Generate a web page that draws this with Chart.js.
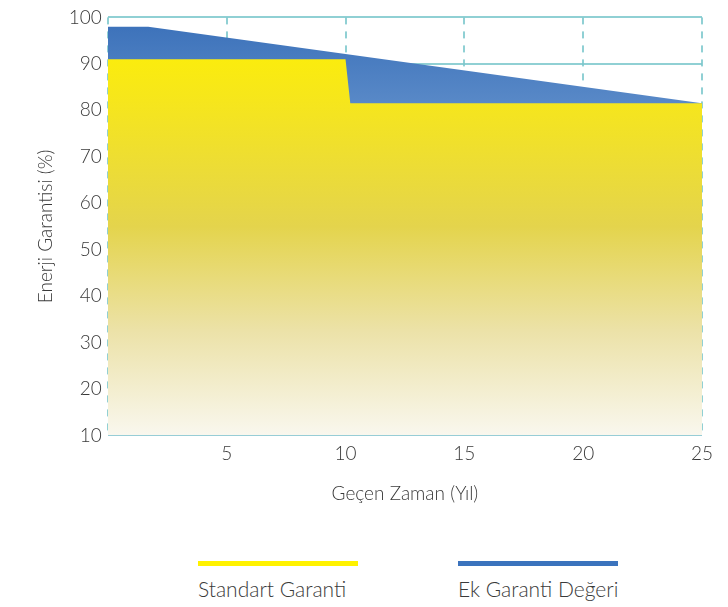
<!DOCTYPE html>
<html>
<head>
<meta charset="utf-8">
<script src="https://cdn.jsdelivr.net/npm/chart.js@4"></script>
<style>
  body { margin: 0; background: #fff; font-family: Lato, "Open Sans", sans-serif; }
  #kutu { position: relative; width: 728px; height: 509px; }
  #lejant { position: relative; width: 728px; height: 98px; }
  .lj { position: absolute; top: 52px; width: 190px; font-size: 21px; font-weight: 300; color: #3a3a3a; }
  .lj span { display: block; height: 5px; width: 160px; margin-bottom: 10px; }
</style>
</head>
<body>
<div id="kutu"><canvas id="myChart"></canvas></div>
<div id="lejant">
  <div class="lj" style="left:198px"><span style="background:#fff200"></span>Standart Garanti</div>
  <div class="lj" style="left:458px"><span style="background:#3b73bd"></span>Ek Garanti Değeri</div>
</div>
<script>
const standartYillar = [0, 10, 10.2, 25];
const standartDegerler = [91, 91, 81.5, 81.5];
const ekYillar = [0, 1.7, 25];
const ekDegerler = [98, 98, 81.5];
const xTikler = [5, 10, 15, 20, 25];

const gridRenk = "rgba(125,200,205,0.85)";
const yaziRenk = "#3a3a3a";
const yazi = { family: "Lato", size: 19, weight: 300 };

function noktalar(xs, ys) {
  return xs.map((x, i) => ({ x: x, y: ys[i] }));
}

function sariGradyan(context) {
  const area = context.chart.chartArea;
  if (!area) return "#f0e040";
  const g = context.chart.ctx.createLinearGradient(0, area.top, 0, area.bottom);
  g.addColorStop(0, "#fff200");
  g.addColorStop(0.2, "#f6e61c");
  g.addColorStop(0.5, "#e4d44c");
  g.addColorStop(0.75, "#ece2a8");
  g.addColorStop(1, "#f9f7ee");
  return g;
}

function maviGradyan(context) {
  const area = context.chart.chartArea;
  if (!area) return "#3b73bd";
  const g = context.chart.ctx.createLinearGradient(0, area.top, 0, area.top + 90);
  g.addColorStop(0, "#3a70b9");
  g.addColorStop(1, "#5a8ac8");
  return g;
}

const config = {
  type: "line",
  data: {
    datasets: [
      {
        label: "Standart Garanti",
        data: noktalar(standartYillar, standartDegerler),
        borderWidth: 0,
        pointRadius: 0,
        fill: "start",
        backgroundColor: sariGradyan
      },
      {
        label: "Ek Garanti Değeri",
        data: noktalar(ekYillar, ekDegerler),
        borderWidth: 0,
        pointRadius: 0,
        fill: "start",
        backgroundColor: maviGradyan
      }
    ]
  },
  options: {
    responsive: true,
    maintainAspectRatio: false,
    animation: false,
    layout: { padding: { top: 4, right: 26, left: 30, bottom: 0 } },
    plugins: { legend: { display: false }, tooltip: { enabled: false } },
    scales: {
      x: {
        type: "linear",
        min: 0,
        max: 25,
        z: 1,
        afterBuildTicks: (axis) => {
          axis.ticks = [0].concat(xTikler).map((v) => ({ value: v }));
        },
        ticks: {
          color: yaziRenk,
          font: yazi,
          padding: 7,
          callback: (v) => (v === 0 ? "" : v)
        },
        grid: { color: gridRenk, lineWidth: 2, drawTicks: false },
        border: { display: false, dash: [7, 7] },
        title: {
          display: true,
          text: "Geçen Zaman (Yıl)",
          color: yaziRenk,
          font: yazi,
          padding: { top: 10 }
        }
      },
      y: {
        min: 10,
        max: 100,
        z: 1,
        ticks: {
          stepSize: 10,
          color: yaziRenk,
          font: yazi,
          padding: 6
        },
        grid: { color: gridRenk, lineWidth: 2, drawTicks: false },
        border: { display: false },
        title: {
          display: true,
          text: "Enerji Garantisi (%)",
          color: yaziRenk,
          font: yazi,
          padding: { bottom: 6 }
        }
      }
    }
  }
};

new Chart(document.getElementById("myChart"), config);
</script>
</body>
</html>
